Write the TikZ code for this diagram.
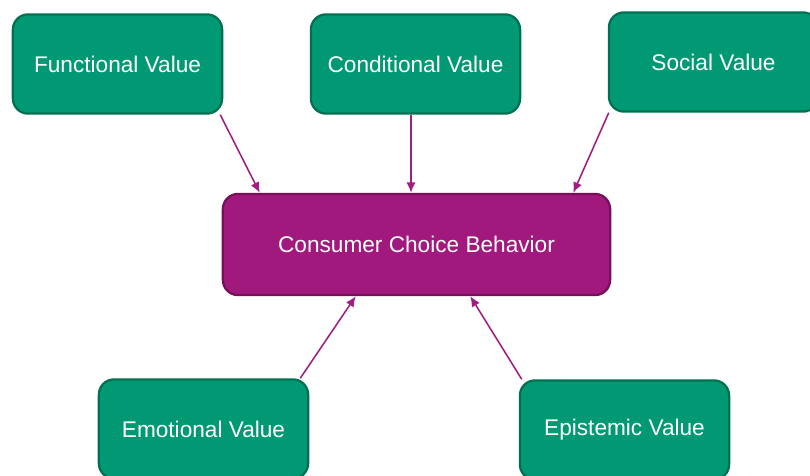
\documentclass[tikz,border=0pt]{standalone}
\usepackage{fontspec}
\setmainfont{Liberation Sans}
\usetikzlibrary{arrows.meta,calc}
\definecolor{valuefill}{RGB}{0,153,115}
\definecolor{valueedge}{RGB}{0,112,82}
\definecolor{behaviorfill}{RGB}{161,25,125}
\definecolor{behavioredge}{RGB}{118,16,90}
\definecolor{influence}{RGB}{160,30,130}
\tikzstyle{valuebox}=[rectangle, rounded corners=0.38cm, draw=valueedge, fill=valuefill, line width=1.6pt, minimum width=5.23cm, minimum height=2.48cm, text=white, font=\fontsize{16.1}{19}\selectfont]
\tikzset{behaviorbox/.style={valuebox, draw=behavioredge, fill=behaviorfill, minimum width=9.68cm, minimum height=2.53cm}}
\tikzset{influence/.style={-{Latex[length=2.6mm,width=2.3mm]}, line width=1.1pt, color=influence}}

\begin{document}
\begin{tikzpicture}[x=0.025cm,y=-0.025cm]
  \useasboundingbox (0,0) rectangle (810,475);
  \clip (0,0) rectangle (810,475);

  %% value dimensions
  \node[valuebox] (fv) at (117.5,64) {Functional Value};
  \node[valuebox] (cv) at (415.5,64) {Conditional Value};
  \node[valuebox] (sv) at (713.5,62) {Social Value};
  \node[valuebox] (ev) at (203.5,429) {\raisebox{-2pt}{Emotional Value}};
  \node[valuebox] (ep) at (624.5,430) {\raisebox{-1.5pt}{Epistemic Value}};

  %% what they act on
  \node[behaviorbox] (ccb) at (416.5,244.5) {Consumer Choice Behavior};

  \draw[influence] ($(fv.south east)+(-3,0)$) -- ($(ccb.north west)+(38,0)$);
  \draw[influence] ($(cv.south)+(-4.5,0)$) -- ($(ccb.north)+(-5.5,0)$);
  \draw[influence] ($(sv.south west)+(1,0)$) -- ($(ccb.north east)+(-38,0)$);
  \draw[influence] ($(ev.north east)+(-9,0)$) -- ($(ccb.south west)+(134,0)$);
  \draw[influence] ($(ep.north west)+(3,0)$) -- ($(ccb.south east)+(-141,0)$);
\end{tikzpicture}
\end{document}
